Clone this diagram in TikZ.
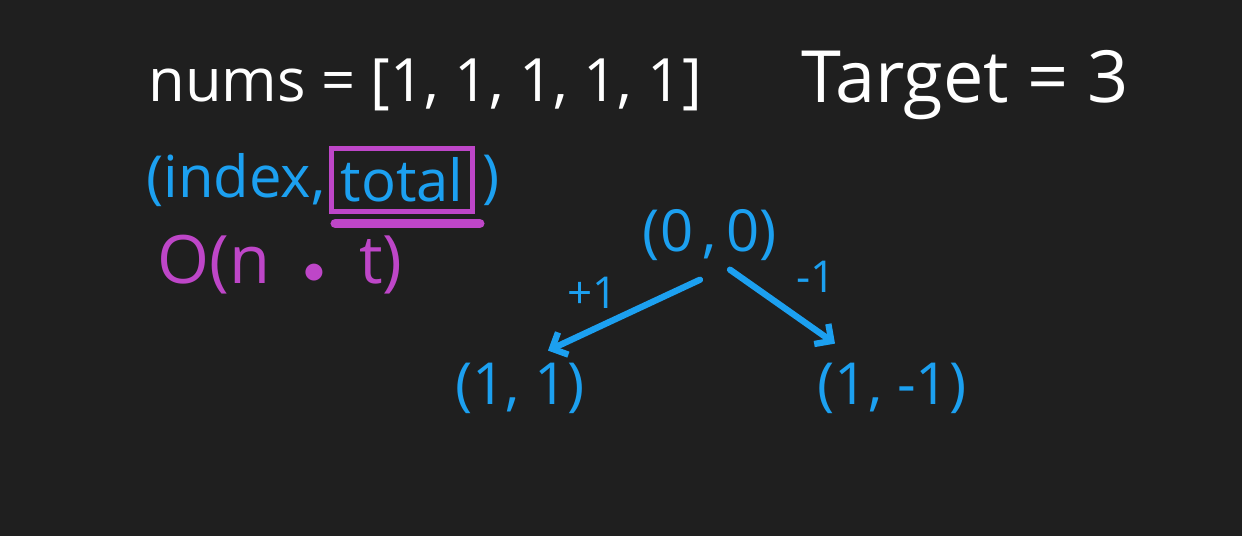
\documentclass[tikz,border=0pt]{standalone}
\usepackage{fontspec}
\setmainfont{Open Sans}
\usetikzlibrary{arrows.meta,positioning,calc}
\definecolor{boardbg}{RGB}{31,31,31}
\definecolor{penblue}{RGB}{28,160,240}
\definecolor{penpink}{RGB}{190,70,200}
\tikzset{
chalk/.style={text=white,font=\fontsize{34}{40}\selectfont},
bluetxt/.style={text=penblue,font=\fontsize{33}{36}\selectfont,inner sep=1pt},
pinktxt/.style={text=penpink,font=\fontsize{38}{40}\selectfont},
edgearr/.style={draw=penblue,line width=3.6pt,line cap=round,
  -{Straight Barb[length=7pt,width=14pt,line width=3.6pt]}},
edgelbl/.style={text=penblue,font=\fontsize{25}{28}\selectfont}
}
\begin{document}
\begin{tikzpicture}[x=0.02cm,y=-0.02cm]
\fill[boardbg] (0,0) rectangle (1242,536);
\useasboundingbox (0,0) rectangle (1242,536);
% header line
\node[chalk] (nums) at (425,85) {nums = [1, 1, 1, 1, 1]};
\node[chalk,font=\fontsize{41}{44}\selectfont] (target) at (965,85) {Target = 3};
% state tuple
\node[bluetxt,draw=penpink,line width=2.8pt,inner sep=5pt] (tot) at (402,180) {total};
\node[bluetxt,left=1pt of tot] (idx) {(index,};
\node[bluetxt,right=3pt of tot] (rp) {)};
\draw[penpink,line width=5.5pt,line cap=round] ($(tot.south west)+(6,10)$) -- ($(tot.south east)+(5,10)$);
\node[pinktxt] (cplx) at (280,265) {O(n\hspace{0.5em}$\bullet$\hspace{0.5em}t)};
% decision tree
\node[bluetxt] (root) at (710,235) {(0\,,\,0)};
\node[bluetxt] (lc) at (520,388) {(1, 1)};
\node[bluetxt] (rc) at (892,388) {(1, -1)};
\draw[edgearr] ($(root.south)+(-10,17)$) -- node[edgelbl,above left=-2pt] {+1} ($(lc.north)+(28,-10)$);
\draw[edgearr] ($(root.south)+(20,7)$) -- node[edgelbl,above right=4pt] {-1} ($(rc.north)+(-57,-17)$);
\end{tikzpicture}
\end{document}
